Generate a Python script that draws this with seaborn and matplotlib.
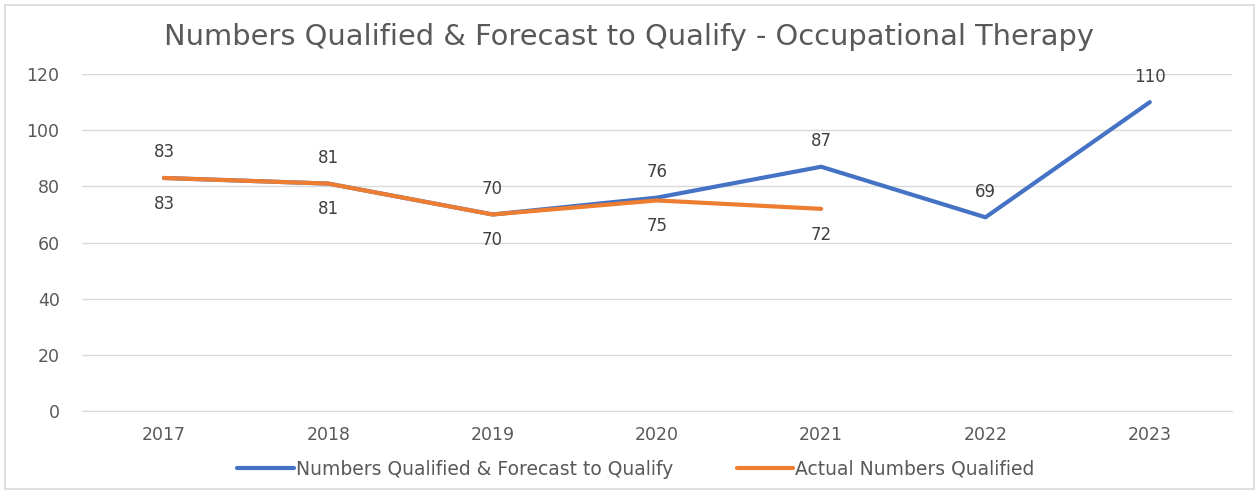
import numpy as np
import pandas as pd
import seaborn as sns
from matplotlib import pyplot as plt
from matplotlib.patches import Rectangle
from matplotlib.lines import Line2D

# chart data
years = ["2017", "2018", "2019", "2020", "2021", "2022", "2023"]
forecast = [83, 81, 70, 76, 87, 69, 110]
actual = [83, 81, 70, 75, 72]

name_f = "Numbers Qualified & Forecast to Qualify"
name_a = "Actual Numbers Qualified"

df = pd.concat([
    pd.DataFrame({"year": years, "value": forecast, "series": name_f}),
    pd.DataFrame({"year": years[:len(actual)], "value": actual, "series": name_a}),
])
df["pos"] = df["year"].map({y: i for i, y in enumerate(years)})

sns.set_style("white")
plt.rcParams["font.family"] = ["DejaVu Sans"]

fig = plt.figure(figsize=(12.59, 4.94), dpi=100)
ax = fig.add_axes([0.065, 0.168, 0.9135, 0.682])

blue = "#4472C4"
orange = "#ED7D31"
sns.lineplot(data=df, x="pos", y="value", hue="series", palette=[blue, orange],
             linewidth=3, ax=ax, legend=False, zorder=3)

ax.set_xlim(-0.5, len(years) - 0.5)
ax.set_ylim(0, 120)
ax.set_yticks(range(0, 121, 20))
ax.set_xticks(range(len(years)))
ax.set_xticklabels(years)
ax.grid(axis="y", color="#D9D9D9", linewidth=1)
ax.set_xlabel("")
ax.set_ylabel("")
for s in ["top", "right", "left"]:
    ax.spines[s].set_visible(False)
ax.spines["bottom"].set_color("#D9D9D9")
ax.tick_params(axis="both", length=0, labelsize=12.5, labelcolor="#595959")
ax.tick_params(axis="x", pad=11)
ax.tick_params(axis="y", pad=16)

# data labels
for i, v in enumerate(forecast):
    ax.annotate(str(v), (i, v), xytext=(0, 12), textcoords="offset points",
                ha="center", va="bottom", fontsize=12, color="#404040")
for i, v in enumerate(actual):
    ax.annotate(str(v), (i, v), xytext=(0, -12), textcoords="offset points",
                ha="center", va="top", fontsize=12, color="#404040")

fig.text(0.5, 0.925, "Numbers Qualified & Forecast to Qualify - Occupational Therapy",
         ha="center", va="center", fontsize=20.8, color="#595959")

# legend
handles = [Line2D([0], [0], color=blue, lw=3), Line2D([0], [0], color=orange, lw=3)]
fig.legend(handles, [name_f, name_a], loc="center", bbox_to_anchor=(0.505, 0.05),
           ncol=2, frameon=False, fontsize=13.5, handlelength=3.0,
           handletextpad=0.1, columnspacing=3.4, labelcolor="#595959")

fig.patches.append(Rectangle((0.004, 0.01), 0.992, 0.98, transform=fig.transFigure,
                             fill=False, edgecolor="#D9D9D9", linewidth=1.2))

fig.savefig("out.png", dpi=100)
